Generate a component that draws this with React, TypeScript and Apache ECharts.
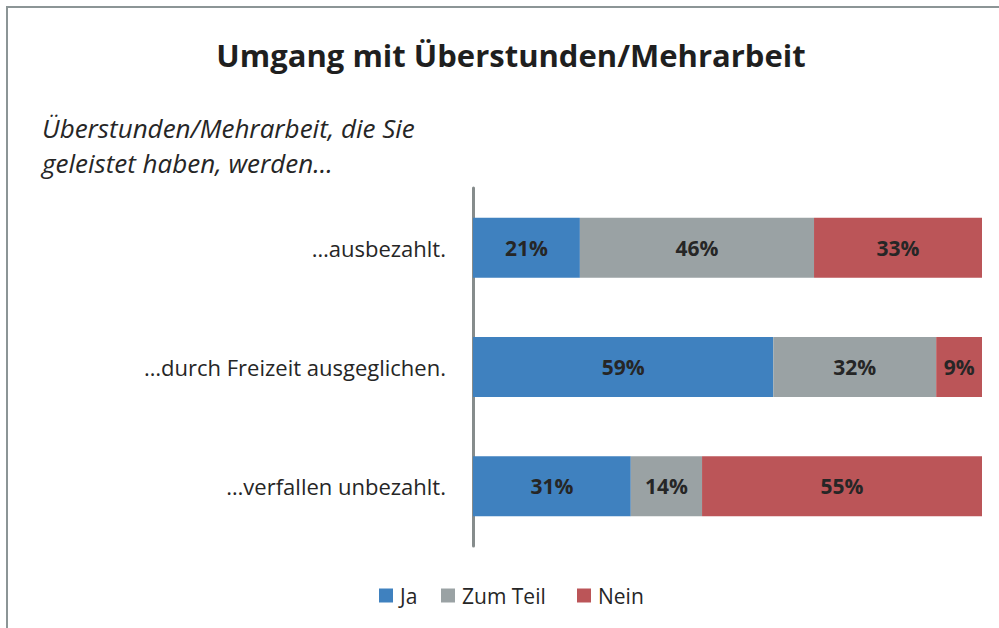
import React, { useEffect, useRef } from "react";
import * as echarts from "echarts";

const categories = ["…ausbezahlt.", "…durch Freizeit ausgeglichen.", "…verfallen unbezahlt."];
const seriesNames = ["Ja", "Zum Teil", "Nein"];
const jaValues = [21, 59, 31];
const teilValues = [46, 32, 14];
const neinValues = [33, 9, 55];
const colors = ["#3f81bf", "#9aa2a4", "#bb5558"];
const legendLefts = [379, 441, 577];

const FONT = "'Open Sans', 'Noto Sans', sans-serif";

export default function App() {
  const ref = useRef<HTMLDivElement>(null);
  useEffect(() => {
    if (!ref.current) return;
    const chart = echarts.init(ref.current, null, { renderer: "svg" });
    const values = [jaValues, teilValues, neinValues];
    chart.setOption({
      animation: false,
      backgroundColor: "#ffffff",
      textStyle: { fontFamily: FONT },
      graphic: [
        {
          type: "rect",
          shape: { x: 7, y: 7, width: 1100, height: 800 },
          style: { fill: "none", stroke: "#8c9596", lineWidth: 2 },
          silent: true,
        },
        {
          type: "text",
          x: 511,
          y: 55,
          style: {
            text: "Umgang mit Überstunden/Mehrarbeit",
            font: `bold 31px ${FONT}`,
            fill: "#1f1f1f",
            align: "center",
            verticalAlign: "middle",
          },
        },
        {
          type: "text",
          x: 42,
          y: 128,
          style: {
            text: "Überstunden/Mehrarbeit, die Sie",
            font: `italic 26px ${FONT}`,
            fill: "#262626",
            align: "left",
            verticalAlign: "middle",
          },
        },
        {
          type: "text",
          x: 42,
          y: 163,
          style: {
            text: "geleistet haben, werden...",
            font: `italic 26px ${FONT}`,
            fill: "#262626",
            align: "left",
            verticalAlign: "middle",
          },
        },
      ],
      legend: seriesNames.map((name, i) => ({
        bottom: 22,
        left: legendLefts[i],
        padding: 0,
        itemWidth: 14,
        itemHeight: 14,
        icon: "rect",
        textStyle: { fontSize: 21, color: "#262626", fontFamily: FONT, padding: [0, 0, 0, 2] },
        data: [name],
      })),
      grid: { left: 473, right: 17, top: 188, bottom: 82, containLabel: false },
      xAxis: {
        type: "value",
        min: 0,
        max: 100,
        show: false,
      },
      yAxis: {
        type: "category",
        inverse: true,
        data: categories,
        axisLine: { show: true, lineStyle: { color: "#868c8c", width: 3 } },
        axisTick: { show: false },
        axisLabel: { fontSize: 22, color: "#262626", margin: 27, fontFamily: FONT },
      },
      series: seriesNames.map((name, i) => ({
        name,
        type: "bar",
        stack: "total",
        barWidth: 60,
        data: values[i],
        itemStyle: { color: colors[i] },
        label: {
          show: true,
          position: "inside",
          formatter: "{c}%",
          fontSize: 21,
          fontWeight: "bold",
          color: "#262626",
          fontFamily: FONT,
        },
      })),
    });
    return () => chart.dispose();
  }, []);
  return (
    <div
      ref={ref}
      style={{ position: "fixed", left: 0, top: 0, width: 999, height: 628 }}
    />
  );
}
